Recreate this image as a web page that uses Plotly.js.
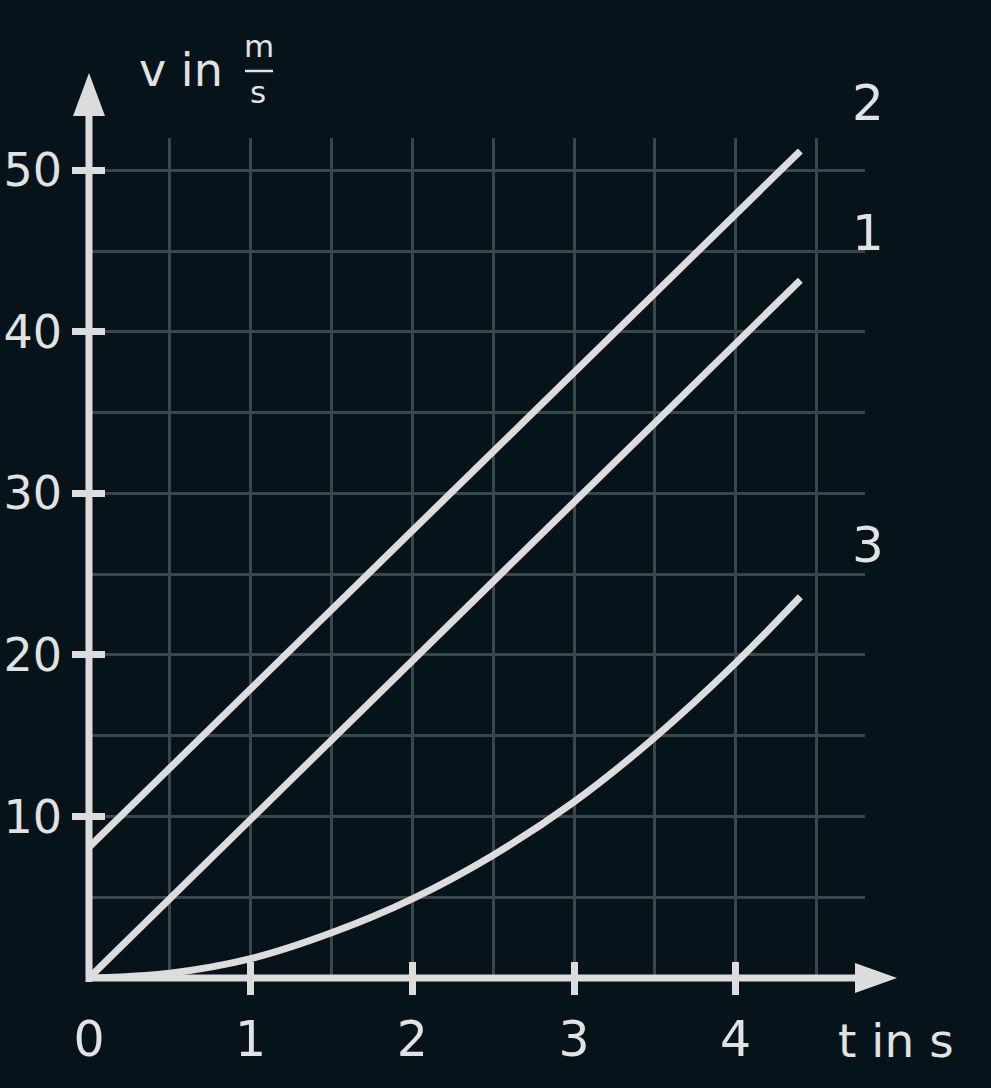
<!DOCTYPE html>
<html>
<head>
<meta charset="utf-8">
<script src="https://cdn.plot.ly/plotly-3.0.1.min.js"></script>
<style>
  html, body { margin: 0; padding: 0; background: #06131a; }
</style>
</head>
<body>
<div id="chart" style="width:991px;height:1088px;"></div>
<script>
// Values (t in s, v in m/s).
const line1T = [0, 4.4];
const line1V = [0, 43.2];
const line2T = [0, 4.4];
const line2V = [8.1, 51.2];
const line3T = [0, 0.5, 1, 1.5, 2, 2.5, 3, 3.5, 4, 4.4];
const line3V = [0, 0.3, 1.2, 2.8, 4.9, 7.6, 10.9, 14.9, 19.5, 23.6];

const xTickVals = [0, 1, 2, 3, 4];
const xTickText = ['0', '1', '2', '3', '4'];
const yTickVals = [10, 20, 30, 40, 50];
const yTickText = ['10', '20', '30', '40', '50'];
const lineNames = ['1', '2', '3'];

const BG = '#06131a';
const FG = '#dcdcdc';
const TXT = '#e2e2e2';
const GRID = '#3a4649';
const FONT = 'DejaVu Sans';

// Plot area in pixels: left 89, right 865, top 138, bottom 978.
function X(px) { return (px - 89) / 776; }
function Y(py) { return (978 - py) / 840; }

function lineTrace(x, y, name, shape) {
  return {
    x: x, y: y, name: name,
    mode: 'lines',
    line: {color: FG, width: 7, shape: shape || 'linear', smoothing: 1},
    hoverinfo: 'skip',
    cliponaxis: false
  };
}

const data = [
  lineTrace(line1T, line1V, lineNames[0]),
  lineTrace(line2T, line2V, lineNames[1]),
  lineTrace(line3T, line3V, lineNames[2], 'spline'),
  // empty traces so the tick-mark axes get drawn
  {x: [], y: [], xaxis: 'x2', yaxis: 'y', hoverinfo: 'skip', showlegend: false},
  {x: [], y: [], xaxis: 'x3', yaxis: 'y', hoverinfo: 'skip', showlegend: false},
  {x: [], y: [], xaxis: 'x', yaxis: 'y2', hoverinfo: 'skip', showlegend: false},
  {x: [], y: [], xaxis: 'x', yaxis: 'y3', hoverinfo: 'skip', showlegend: false}
];

const tickAxisX = (side) => ({
  overlaying: 'x', anchor: 'y', range: [0, 4.8],
  tickmode: 'array', tickvals: [1, 2, 3, 4],
  ticks: side, ticklen: 16, tickwidth: 7, tickcolor: FG,
  showticklabels: false, showgrid: false, zeroline: false, showline: false,
  fixedrange: true
});
const tickAxisY = (side) => ({
  overlaying: 'y', anchor: 'x', range: [0, 52],
  tickmode: 'array', tickvals: yTickVals,
  ticks: side, ticklen: 16, tickwidth: 7, tickcolor: FG,
  showticklabels: false, showgrid: false, zeroline: false, showline: false,
  fixedrange: true
});

function label(text, px, py, size, anchor) {
  return {text: text, xref: 'paper', yref: 'paper', x: X(px), y: Y(py),
    xanchor: anchor || 'center', yanchor: 'middle', showarrow: false,
    font: {family: FONT, size: size, color: TXT}};
}

const layout = {
  width: 991,
  height: 1088,
  margin: {l: 89, r: 126, t: 138, b: 110},
  paper_bgcolor: BG,
  plot_bgcolor: BG,
  showlegend: false,
  xaxis: {
    range: [0, 4.8],
    tickmode: 'array',
    tickvals: xTickVals,
    ticktext: xTickText,
    ticks: '',
    ticklabelstandoff: 28,
    tickfont: {family: FONT, size: 49, color: TXT},
    showgrid: true, gridcolor: GRID, gridwidth: 3,
    minor: {dtick: 0.5, tick0: 0, showgrid: true, gridcolor: GRID, gridwidth: 3},
    zeroline: false, showline: false,
    fixedrange: true
  },
  yaxis: {
    range: [0, 52],
    tickmode: 'array',
    tickvals: yTickVals,
    ticktext: yTickText,
    ticks: '',
    ticklabelstandoff: 26,
    tickfont: {family: FONT, size: 46, color: TXT},
    showgrid: true, gridcolor: GRID, gridwidth: 3,
    minor: {dtick: 5, tick0: 0, showgrid: true, gridcolor: GRID, gridwidth: 3},
    zeroline: false, showline: false,
    fixedrange: true
  },
  xaxis2: tickAxisX('outside'),
  xaxis3: tickAxisX('inside'),
  yaxis2: tickAxisY('outside'),
  yaxis3: tickAxisY('inside'),
  shapes: [
    // axis lines with arrow heads
    {type: 'line', xref: 'paper', yref: 'paper', x0: X(86), x1: X(860), y0: 0, y1: 0,
     line: {color: FG, width: 7}, layer: 'above'},
    {type: 'line', xref: 'paper', yref: 'paper', x0: 0, x1: 0, y0: Y(982), y1: Y(110),
     line: {color: FG, width: 7}, layer: 'above'},
    {type: 'path', xref: 'paper', yref: 'paper',
     path: `M ${X(855)},${Y(963)} L ${X(897)},${Y(978)} L ${X(855)},${Y(993)} Z`,
     fillcolor: FG, line: {width: 0}, layer: 'above'},
    {type: 'path', xref: 'paper', yref: 'paper',
     path: `M ${X(73)},${Y(116)} L ${X(89)},${Y(73)} L ${X(105)},${Y(116)} Z`,
     fillcolor: FG, line: {width: 0}, layer: 'above'},
    // fraction bar of m/s
    {type: 'line', xref: 'paper', yref: 'paper', x0: X(245), x1: X(273), y0: Y(71), y1: Y(71),
     line: {color: TXT, width: 2.5}}
  ],
  annotations: [
    label('v in', 137, 70, 46, 'left'),
    label('m', 259, 46, 31),
    label('s', 258, 92, 31),
    label('t in s', 836, 1040, 47, 'left'),
    label(lineNames[1], 868, 103, 50),
    label(lineNames[0], 868, 233, 50),
    label(lineNames[2], 868, 545, 50)
  ]
};

Plotly.newPlot('chart', data, layout, {staticPlot: true, displayModeBar: false});
</script>
</body>
</html>
